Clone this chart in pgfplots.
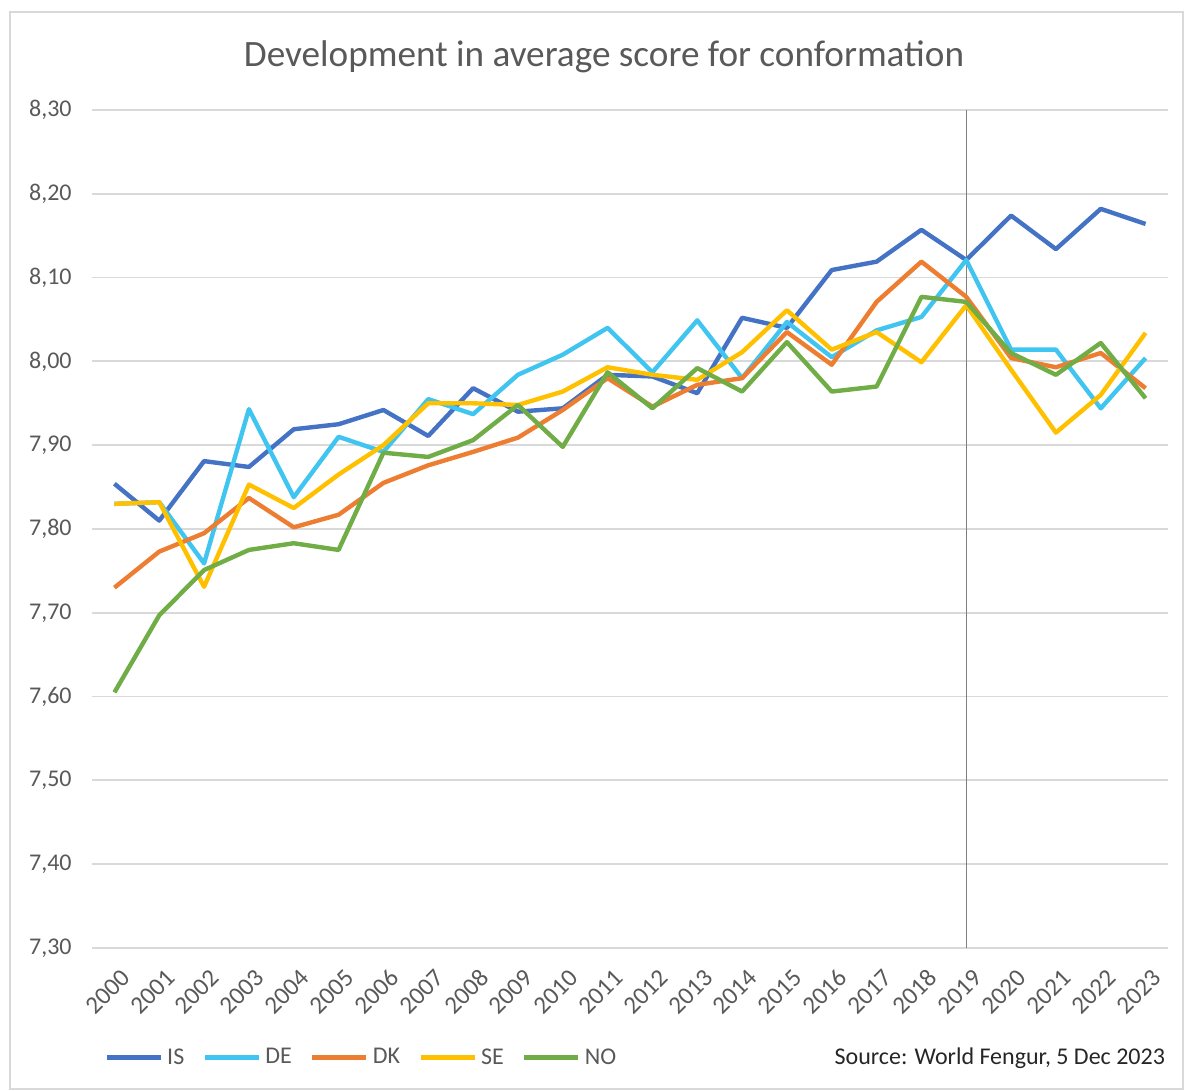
\documentclass[border=0pt]{standalone}
\usepackage{fontspec}
\setmainfont{Carlito}
\usepackage{pgfplots}
\pgfplotsset{compat=1.18}
\definecolor{cIS}{HTML}{4472C4}
\definecolor{cDE}{HTML}{40C4F0}
\definecolor{cDK}{HTML}{ED7D31}
\definecolor{cSE}{HTML}{FFC000}
\definecolor{cNO}{HTML}{70AD47}
\definecolor{gridc}{HTML}{D9D9D9}
\definecolor{txtc}{HTML}{595959}
\begin{document}
\begin{tikzpicture}
\useasboundingbox (0pt,0pt) rectangle (592pt,545.5pt);
\draw[color=gridc, line width=0.8pt] (5pt,1pt) rectangle (591.5pt,539.5pt);
\node[text=txtc, font=\fontsize{18.6}{22}\selectfont] at (302pt,517pt) {Development in average score for conformation};
\node[anchor=east, text=black!85, font=\fontsize{12}{14}\selectfont] at (586pt,16.5pt) {Source: World Fengur, 5 Dec 2023};
\begin{axis}[
  at={(46pt,71.5pt)}, anchor=south west,
  scale only axis, width=538pt, height=419pt,
  xmin=-0.5, xmax=23.5, ymin=7.3, ymax=8.3,
  xtick={0,...,23},
  xticklabels={2000,2001,2002,2003,2004,2005,2006,2007,2008,2009,2010,2011,2012,2013,2014,2015,2016,2017,2018,2019,2020,2021,2022,2023},
  ytick={7.3,7.4,7.5,7.6,7.7,7.8,7.9,8.0,8.1,8.2,8.3},
  /pgf/number format/use comma,
  /pgf/number format/fixed,
  /pgf/number format/fixed zerofill,
  /pgf/number format/precision=2,
  /pgf/number format/assume math mode=true,
  yticklabel style={text=txtc, font=\fontsize{12}{14}\selectfont, inner sep=0pt, xshift=-10pt},
  xticklabel style={text=txtc, font=\fontsize{12.5}{14}\selectfont, rotate=45, anchor=east, inner sep=0pt, yshift=-13pt, xshift=-5pt},
  major tick length=0pt,
  axis line style={draw=none},
  ymajorgrids, grid style={color=gridc, line width=0.9pt},
  legend style={at={(0.011,-0.131)}, anchor=west, draw=none, fill=none, inner sep=0pt,
    font=\fontsize{12}{14}\selectfont, text=txtc,
    legend cell align=left},
  legend columns=5,
  legend image code/.code={\draw[#1, line width=2.5pt] (0pt,0pt) -- (27pt,0pt);},
  every axis plot/.append style={line width=2.2pt, line join=round},
  clip=false,
]
\addplot[color=gray, line width=0.6pt, forget plot] coordinates {(19,7.3) (19,8.3)};
\addplot[cIS] coordinates {(0,7.854)(1,7.810)(2,7.881)(3,7.874)(4,7.919)(5,7.925)(6,7.942)(7,7.911)(8,7.968)(9,7.940)(10,7.944)(11,7.984)(12,7.982)(13,7.962)(14,8.052)(15,8.040)(16,8.109)(17,8.119)(18,8.157)(19,8.121)(20,8.174)(21,8.134)(22,8.182)(23,8.164)};
\addplot[cDE] coordinates {(0,7.830)(1,7.832)(2,7.759)(3,7.943)(4,7.838)(5,7.910)(6,7.892)(7,7.955)(8,7.937)(9,7.984)(10,8.008)(11,8.040)(12,7.987)(13,8.049)(14,7.980)(15,8.047)(16,8.005)(17,8.037)(18,8.053)(19,8.121)(20,8.014)(21,8.014)(22,7.944)(23,8.004)};
\addplot[cDK] coordinates {(0,7.730)(1,7.773)(2,7.795)(3,7.837)(4,7.802)(5,7.817)(6,7.855)(7,7.876)(8,7.892)(9,7.909)(10,7.942)(11,7.980)(12,7.946)(13,7.972)(14,7.980)(15,8.035)(16,7.996)(17,8.071)(18,8.119)(19,8.077)(20,8.004)(21,7.993)(22,8.010)(23,7.968)};
\addplot[cSE] coordinates {(0,7.830)(1,7.832)(2,7.731)(3,7.853)(4,7.825)(5,7.865)(6,7.900)(7,7.950)(8,7.950)(9,7.948)(10,7.964)(11,7.993)(12,7.984)(13,7.978)(14,8.011)(15,8.061)(16,8.014)(17,8.035)(18,7.999)(19,8.067)(20,7.990)(21,7.915)(22,7.960)(23,8.034)};
\addplot[cNO] coordinates {(0,7.605)(1,7.697)(2,7.751)(3,7.775)(4,7.783)(5,7.775)(6,7.891)(7,7.886)(8,7.906)(9,7.948)(10,7.898)(11,7.987)(12,7.944)(13,7.992)(14,7.964)(15,8.023)(16,7.964)(17,7.970)(18,8.077)(19,8.071)(20,8.010)(21,7.984)(22,8.022)(23,7.956)};
\legend{IS\rule{7pt}{0pt},DE\rule{7pt}{0pt},DK\rule{7pt}{0pt},SE\rule{7pt}{0pt},NO}
\end{axis}
\end{tikzpicture}
\end{document}
